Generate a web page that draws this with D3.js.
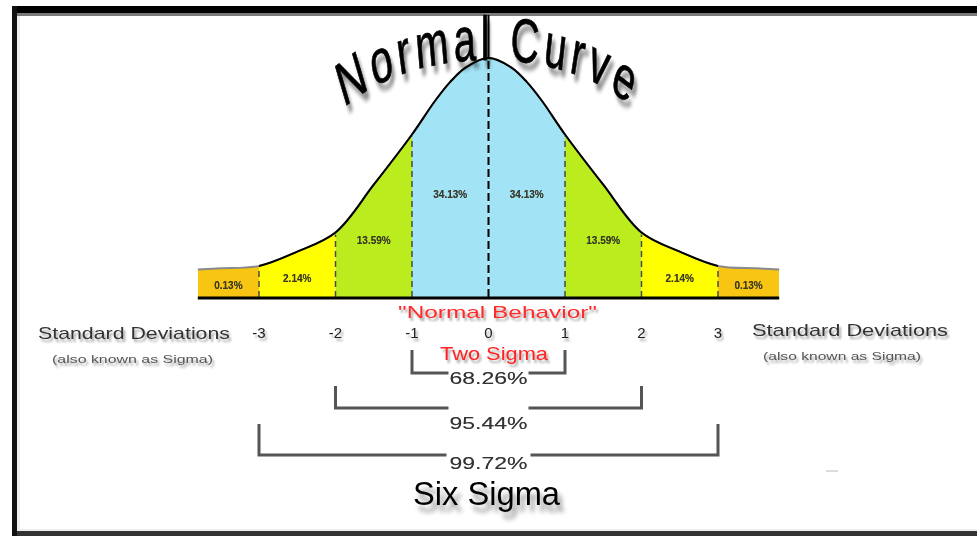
<!DOCTYPE html>
<html>
<head>
<meta charset="utf-8">
<script src="https://cdn.jsdelivr.net/npm/d3@7/dist/d3.min.js"></script>
<style>
  html, body { margin: 0; padding: 0; background: #fff; }
  svg { display: block; }
</style>
</head>
<body>
<div id="chart"></div>
<script>
// data
var sigmaTicks = [-3, -2, -1, 0, 1, 2, 3];
var bandEdges = [-3.8, -3, -2, -1, 0, 1, 2, 3, 3.8];
var bandPercents = ['0.13%', '2.14%', '13.59%', '34.13%', '34.13%', '13.59%', '2.14%', '0.13%'];
// drawn curve: sigma position and height relative to the peak
var curveZ = [-3.8, -3.5, -3, -2.5, -2, -1.5, -1, -0.7, -0.5, -0.3, 0, 0.3, 0.5, 0.7, 1, 1.5, 2, 2.5, 3, 3.5, 3.8];
var curveH = [0.115, 0.12, 0.13, 0.19, 0.27, 0.47, 0.68, 0.82, 0.90, 0.96, 1.0, 0.96, 0.90, 0.82, 0.68, 0.47, 0.27, 0.19, 0.13, 0.12, 0.115];
var spanSigmas = [1, 2, 3];
var spanPercents = ['68.26%', '95.44%', '99.72%'];

var width = 977, height = 536,
    bandColors = ['#f7c512', '#ffff00', '#bbec1e', '#a2e3f5', '#a2e3f5', '#bbec1e', '#ffff00', '#f7c512'],
    labelLevels = [0.05, 0.08, 0.24, 0.43, 0.43, 0.24, 0.08, 0.05],
    sans = '"Liberation Sans", Arial, sans-serif';

var svg = d3.select('#chart').append('svg')
    .attr('width', width)
    .attr('height', height);

var defs = svg.append('defs');

function shadow(id, dx, dy, blur, op) {
    var f = defs.append('filter').attr('id', id)
        .attr('x', '-20%').attr('y', '-40%').attr('width', '150%').attr('height', '200%');
    f.append('feGaussianBlur').attr('in', 'SourceAlpha').attr('stdDeviation', blur).attr('result', 'b');
    f.append('feOffset').attr('in', 'b').attr('dx', dx).attr('dy', dy).attr('result', 'o');
    f.append('feComponentTransfer').attr('in', 'o').attr('result', 's')
        .append('feFuncA').attr('type', 'linear').attr('slope', op);
    var m = f.append('feMerge');
    m.append('feMergeNode').attr('in', 's');
    m.append('feMergeNode').attr('in', 'SourceGraphic');
}
shadow('bigShadow', 4, 7, 2.5, 0.45);
shadow('smallShadow', 2, 3, 1.2, 0.35);
shadow('soft', 0, 0, 0.6, 0.5);

// frame
svg.append('rect').attr('x', 12).attr('y', 6).attr('width', width - 12).attr('height', 7).attr('fill', '#000');
svg.append('rect').attr('x', 17).attr('y', 13).attr('width', width - 17).attr('height', 3).attr('fill', '#7a7a7a');
svg.append('rect').attr('x', 12).attr('y', 6).attr('width', 5).attr('height', height - 6).attr('fill', '#111');
svg.append('rect').attr('x', 17).attr('y', 16).attr('width', 3).attr('height', height - 22).attr('fill', '#eee');
svg.append('rect').attr('x', 17).attr('y', 529).attr('width', width - 17).attr('height', 3).attr('fill', '#eee');
svg.append('rect').attr('x', 17).attr('y', 531).attr('width', width - 17).attr('height', 5).attr('fill', '#333');

var x = d3.scaleLinear().domain([-3, 3]).range([259, 718]);
var y = d3.scaleLinear().domain([0, 1]).range([297, 58]);

var pts = curveZ.map(function (z, i) { return [z, curveH[i]]; });

var area = d3.area()
    .x(function (d) { return x(d[0]); })
    .y0(y(0))
    .y1(function (d) { return y(d[1]); })
    .curve(d3.curveCatmullRom.alpha(0.5));

var line = d3.line()
    .x(function (d) { return x(d[0]); })
    .y(function (d) { return y(d[1]); })
    .curve(d3.curveCatmullRom.alpha(0.5));

// coloured bands, each one a clip of the full area
var bands = d3.range(bandPercents.length);
bands.forEach(function (i) {
    defs.append('clipPath').attr('id', 'band' + i)
        .append('rect')
        .attr('x', x(bandEdges[i]))
        .attr('y', 0)
        .attr('width', x(bandEdges[i + 1]) - x(bandEdges[i]))
        .attr('height', y(0));
    svg.append('path')
        .attr('d', area(pts))
        .attr('fill', bandColors[i])
        .attr('clip-path', 'url(#band' + i + ')');
});

defs.append('clipPath').attr('id', 'mid')
    .append('rect').attr('x', x(-3)).attr('y', 0).attr('width', x(3) - x(-3)).attr('height', 300);

// tail outline (grey), main outline (black)
svg.append('path').attr('d', line(pts)).attr('fill', 'none').attr('stroke', '#8a8a8a').attr('stroke-width', 2);
svg.append('path').attr('d', line(pts)).attr('fill', 'none').attr('stroke', '#000').attr('stroke-width', 2)
    .attr('clip-path', 'url(#mid)');

// dashed sigma dividers
sigmaTicks.forEach(function (z) {
    var h = curveH[curveZ.indexOf(z)];
    svg.append('line')
        .attr('x1', x(z)).attr('x2', x(z))
        .attr('y1', y(0)).attr('y2', y(h) + (z === 0 ? 0 : 2))
        .attr('stroke', z === 0 ? '#000' : '#4a4a4a')
        .attr('stroke-width', z === 0 ? 2 : 1.5)
        .attr('stroke-dasharray', z === 0 ? '8,4' : '6,4');
});

// centre line up to the frame
svg.append('line')
    .attr('x1', x(0)).attr('x2', x(0)).attr('y1', 15).attr('y2', y(1))
    .attr('stroke', '#000').attr('stroke-width', 2);

// baseline
svg.append('line')
    .attr('x1', x(-3.8)).attr('x2', x(3.8)).attr('y1', y(0) + 1).attr('y2', y(0) + 1)
    .attr('stroke', '#000').attr('stroke-width', 3);

// band percentages
svg.append('g').selectAll('text')
    .data(bands)
    .join('text')
    .attr('x', function (i) { return (x(bandEdges[i]) + x(bandEdges[i + 1])) / 2; })
    .attr('y', function (i) { return y(labelLevels[i]) + 4; })
    .attr('text-anchor', 'middle')
    .attr('font-family', sans)
    .attr('font-size', 10)
    .attr('font-weight', 'bold')
    .attr('fill', '#3a3a2a')
    .attr('filter', 'url(#soft)')
    .text(function (i) { return bandPercents[i]; });

// title on an arc, squeezed sideways to look condensed
var sx = 0.64, rx = 168, ry = 100;
var title = svg.append('g')
    .attr('transform', 'translate(' + x(0) + ',160) scale(' + sx + ',1)')
    .attr('filter', 'url(#bigShadow)');
title.append('path').attr('id', 'titleArc')
    .attr('fill', 'none')
    .attr('d', 'M' + (-rx / sx) + ',0 A' + (rx / sx) + ',' + ry + ' 0 0,1 ' + (rx / sx) + ',0');
title.append('text')
    .attr('font-family', sans)
    .attr('font-size', 62)
    .attr('letter-spacing', 7)
    .attr('fill', '#000')
    .attr('stroke', '#000')
    .attr('stroke-width', 0.8)
    .append('textPath')
    .attr('href', '#titleArc')
    .attr('startOffset', '50%')
    .attr('text-anchor', 'middle')
    .text('Normal Curve');

// sigma tick labels
svg.append('g').selectAll('text')
    .data(sigmaTicks)
    .join('text')
    .attr('x', function (d) { return x(d); })
    .attr('y', 338)
    .attr('text-anchor', 'middle')
    .attr('font-family', sans)
    .attr('font-size', 15)
    .attr('fill', '#222')
    .attr('filter', 'url(#smallShadow)')
    .text(function (d) { return d < 0 ? '-' + Math.abs(d) : d; });

function stretched(x0, y0, w, size, fill, filter, txt) {
    return svg.append('text')
        .attr('x', x0).attr('y', y0)
        .attr('font-family', sans).attr('font-size', size)
        .attr('fill', fill).attr('filter', filter)
        .attr('textLength', w).attr('lengthAdjust', 'spacingAndGlyphs')
        .text(txt);
}

// side captions
stretched(38, 339, 192, 17, '#333', 'url(#smallShadow)', 'Standard Deviations');
stretched(52, 363, 161, 11, '#555', 'url(#smallShadow)', '(also known as Sigma)');
stretched(752, 336, 196, 17, '#333', 'url(#smallShadow)', 'Standard Deviations');
stretched(763, 360, 158, 11, '#555', 'url(#smallShadow)', '(also known as Sigma)');

// red notes
stretched(398, 318, 199, 17, '#ff2a2a', 'url(#smallShadow)', '"Normal Behavior"');
stretched(440, 360, 108, 19, '#ff2020', 'url(#smallShadow)', 'Two Sigma');

// coverage brackets
var bracketTop = [350, 386, 424],
    bracketLine = [373, 408, 455],
    labelY = [384, 429, 469],
    gapHalf = [40, 40, 42];
spanSigmas.forEach(function (s, i) {
    var g = svg.append('g').attr('fill', 'none').attr('stroke', '#555').attr('stroke-width', 3);
    g.append('path').attr('d',
        'M' + x(-s) + ',' + bracketTop[i] + 'V' + bracketLine[i] + 'H' + (x(0) - gapHalf[i]));
    g.append('path').attr('d',
        'M' + x(s) + ',' + bracketTop[i] + 'V' + bracketLine[i] + 'H' + (x(0) + gapHalf[i]));
    stretched(x(0) - 39, labelY[i], 78, 17, '#333', 'url(#soft)', spanPercents[i]);
});

stretched(413, 505, 147, 34, '#000', 'url(#bigShadow)', 'Six Sigma');

svg.append('line').attr('x1', 826).attr('x2', 838).attr('y1', 471).attr('y2', 471)
    .attr('stroke', '#ddd').attr('stroke-width', 2);
</script>
</body>
</html>
